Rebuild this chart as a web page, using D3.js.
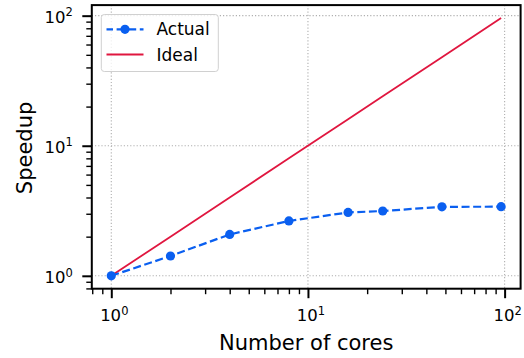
<!DOCTYPE html>
<html>
<head>
<meta charset="utf-8">
<script src="https://cdn.jsdelivr.net/npm/d3@7/dist/d3.min.js"></script>
<style>
  html, body { margin: 0; padding: 0; background: #fff; }
  svg { display: block; font-family: "DejaVu Sans", sans-serif; }
</style>
</head>
<body>
<svg id="chart" width="524" height="358"></svg>
<script>
// ---- data ----
const cores = [1, 2, 4, 8, 16, 24, 48, 96];
const actualSpeedup = [1.0, 1.42, 2.08, 2.64, 3.07, 3.15, 3.39, 3.40];
const idealSpeedup = [1, 2, 4, 8, 16, 24, 48, 96];
const seriesNames = ["Actual", "Ideal"];
const majorTickExponents = [0, 1, 2];
const xLabel = "Number of cores";
const yLabel = "Speedup";

(function () {
// ---- layout ----
const pL = 91.8, pR = 520.6, pT = 5.1, pB = 288.7;
const blue = "#0a5ff0", red = "#e0163f";

const svg = d3.select("#chart");

const lo = Math.pow(10, -0.0991), hi = Math.pow(10, 2.0813);
const x = d3.scaleLog().domain([lo, hi]).range([pL, pR]);
const y = d3.scaleLog().domain([lo, hi]).range([pB, pT]);

const majors = majorTickExponents.map(e => Math.pow(10, e));
const minors = [];
for (let e = -1; e <= 2; e++) for (let k = 2; k <= 9; k++) {
  const v = k * Math.pow(10, e);
  if (v >= lo && v <= hi) minors.push(v);
}

// grid
const grid = svg.append("g").attr("stroke", "#b0b0b0").attr("stroke-width", 1.1)
  .attr("stroke-dasharray", "1.2,2");
majors.forEach(v => {
  grid.append("line").attr("x1", x(v)).attr("x2", x(v)).attr("y1", pT).attr("y2", pB);
  grid.append("line").attr("y1", y(v)).attr("y2", y(v)).attr("x1", pL).attr("x2", pR);
});

// axes with d3 axis generators
const fmtTick = () => "";
const xAxisMajor = d3.axisBottom(x).tickValues(majors).tickSize(9.5).tickFormat(fmtTick);
const xAxisMinor = d3.axisBottom(x).tickValues(minors).tickSize(5.5).tickFormat(fmtTick);
const yAxisMajor = d3.axisLeft(y).tickValues(majors).tickSize(9.5).tickFormat(fmtTick);
const yAxisMinor = d3.axisLeft(y).tickValues(minors).tickSize(5.5).tickFormat(fmtTick);

function styleAxis(g, w) {
  g.select(".domain").remove();
  g.selectAll(".tick line").attr("stroke", "#000").attr("stroke-width", w);
}
svg.append("g").attr("transform", `translate(0,${pB})`).call(xAxisMinor).call(g => styleAxis(g, 1.4));
svg.append("g").attr("transform", `translate(0,${pB})`).call(xAxisMajor).call(g => styleAxis(g, 2));
svg.append("g").attr("transform", `translate(${pL},0)`).call(yAxisMinor).call(g => styleAxis(g, 1.4));
svg.append("g").attr("transform", `translate(${pL},0)`).call(yAxisMajor).call(g => styleAxis(g, 2));

// tick labels with superscripts
function supLabel(sel, e) {
  sel.append("tspan").text("10");
  sel.append("tspan").attr("font-size", "11.5px").attr("dy", "-6.5").text(String(e));
}
majorTickExponents.forEach(e => {
  const v = Math.pow(10, e);
  svg.append("text").attr("x", x(v) + 3).attr("y", 321.3).attr("text-anchor", "middle")
    .attr("font-size", "16.5px").attr("fill", "#000").call(supLabel, e);
  svg.append("text").attr("x", 72.8).attr("y", y(v) + 7.2).attr("text-anchor", "end")
    .attr("font-size", "16.5px").attr("fill", "#000").call(supLabel, e);
});

// series
const pts = cores.map((c, i) => ({ c, a: actualSpeedup[i], id: idealSpeedup[i] }));

svg.append("path").datum(pts)
  .attr("fill", "none").attr("stroke", red).attr("stroke-width", 1.8)
  .attr("d", d3.line().x(d => x(d.c)).y(d => y(d.id)));

svg.append("path").datum(pts)
  .attr("fill", "none").attr("stroke", blue).attr("stroke-width", 2.2)
  .attr("stroke-dasharray", "8,3.6")
  .attr("d", d3.line().x(d => x(d.c)).y(d => y(d.a)));

svg.append("g").selectAll("circle").data(pts).join("circle")
  .attr("cx", d => x(d.c)).attr("cy", d => y(d.a)).attr("r", 4.6).attr("fill", blue);

// spines
svg.append("rect").attr("x", pL).attr("y", pT).attr("width", pR - pL).attr("height", pB - pT)
  .attr("fill", "none").attr("stroke", "#000").attr("stroke-width", 2);

// legend
const lg = svg.append("g");
lg.append("rect").attr("x", 101.3).attr("y", 14.5).attr("width", 117).attr("height", 57)
  .attr("rx", 3).attr("fill", "#fff").attr("fill-opacity", 0.8).attr("stroke", "#d0d0d0").attr("stroke-width", 1);
const rows = [29.3, 54.5];
lg.append("line").attr("x1", 106.5).attr("x2", 143.5).attr("y1", rows[0]).attr("y2", rows[0])
  .attr("stroke", blue).attr("stroke-width", 2.2).attr("stroke-dasharray", "8,3.6")
  .attr("stroke-dashoffset", 1.5);
lg.append("circle").attr("cx", 125).attr("cy", rows[0]).attr("r", 4.6).attr("fill", blue);
lg.append("line").attr("x1", 106.5).attr("x2", 143.5).attr("y1", rows[1]).attr("y2", rows[1])
  .attr("stroke", red).attr("stroke-width", 1.8);
seriesNames.forEach((n, i) => {
  lg.append("text").attr("x", 156.5).attr("y", rows[i] + 6).attr("font-size", "17px")
    .attr("fill", "#000").text(n);
});

// axis labels
svg.append("text").attr("x", (pL + pR) / 2).attr("y", 350.3).attr("text-anchor", "middle")
  .attr("font-size", "21px").attr("fill", "#000").text(xLabel);
svg.append("text").attr("transform", `translate(31.5,${(pT + pB) / 2 + 1}) rotate(-90)`)
  .attr("text-anchor", "middle").attr("font-size", "21px").attr("fill", "#000").text(yLabel);
})();
</script>
</body>
</html>
